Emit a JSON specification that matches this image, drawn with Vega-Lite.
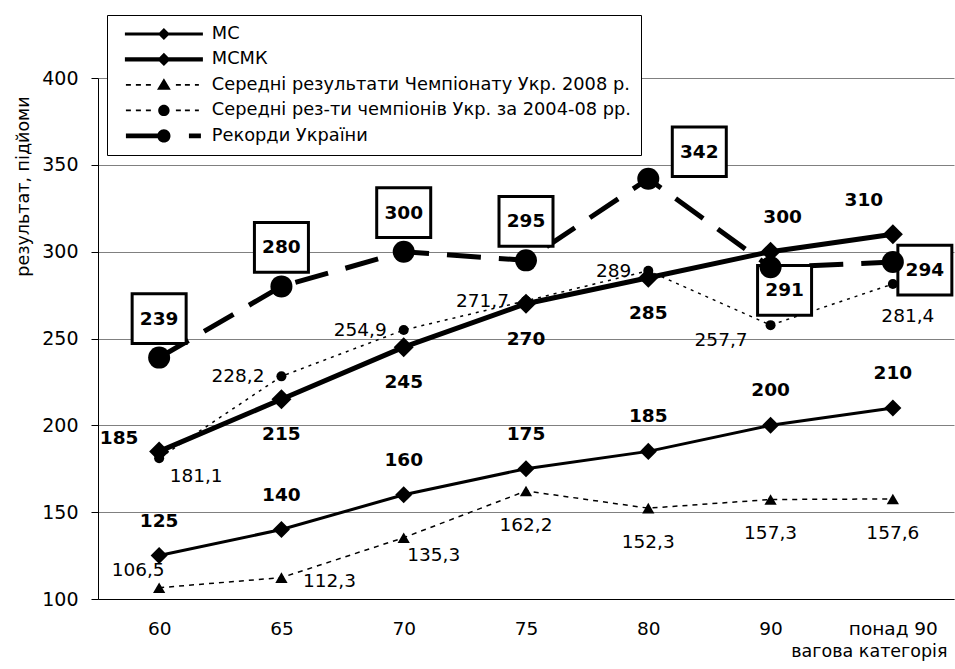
{
  "$schema": "https://vega.github.io/schema/vega-lite/v6.json",
  "width": 856,
  "height": 521,
  "autosize": {"type": "none"},
  "padding": {"left": 98, "top": 78, "right": 1, "bottom": 70},
  "background": "white",
  "config": {
    "font": "DejaVu Sans",
    "view": {"stroke": null},
    "locale": {"number": {"decimal": ",", "thousands": " ", "grouping": [3], "currency": ["", ""]}}
  },
  "data": {
    "values": [
      {"cat": "60", "series": "МС", "value": 125},
      {"cat": "65", "series": "МС", "value": 140},
      {"cat": "70", "series": "МС", "value": 160},
      {"cat": "75", "series": "МС", "value": 175},
      {"cat": "80", "series": "МС", "value": 185},
      {"cat": "90", "series": "МС", "value": 200},
      {"cat": "понад 90", "series": "МС", "value": 210},
      {"cat": "60", "series": "МСМК", "value": 185},
      {"cat": "65", "series": "МСМК", "value": 215},
      {"cat": "70", "series": "МСМК", "value": 245},
      {"cat": "75", "series": "МСМК", "value": 270},
      {"cat": "80", "series": "МСМК", "value": 285},
      {"cat": "90", "series": "МСМК", "value": 300},
      {"cat": "понад 90", "series": "МСМК", "value": 310},
      {"cat": "60", "series": "Середні результати Чемпіонату Укр. 2008 р.", "value": 106.5},
      {"cat": "65", "series": "Середні результати Чемпіонату Укр. 2008 р.", "value": 112.3},
      {"cat": "70", "series": "Середні результати Чемпіонату Укр. 2008 р.", "value": 135.3},
      {"cat": "75", "series": "Середні результати Чемпіонату Укр. 2008 р.", "value": 162.2},
      {"cat": "80", "series": "Середні результати Чемпіонату Укр. 2008 р.", "value": 152.3},
      {"cat": "90", "series": "Середні результати Чемпіонату Укр. 2008 р.", "value": 157.3},
      {"cat": "понад 90", "series": "Середні результати Чемпіонату Укр. 2008 р.", "value": 157.6},
      {"cat": "60", "series": "Середні рез-ти чемпіонів Укр. за 2004-08 рр.", "value": 181.1},
      {"cat": "65", "series": "Середні рез-ти чемпіонів Укр. за 2004-08 рр.", "value": 228.2},
      {"cat": "70", "series": "Середні рез-ти чемпіонів Укр. за 2004-08 рр.", "value": 254.9},
      {"cat": "75", "series": "Середні рез-ти чемпіонів Укр. за 2004-08 рр.", "value": 271.7},
      {"cat": "80", "series": "Середні рез-ти чемпіонів Укр. за 2004-08 рр.", "value": 289},
      {"cat": "90", "series": "Середні рез-ти чемпіонів Укр. за 2004-08 рр.", "value": 257.7},
      {"cat": "понад 90", "series": "Середні рез-ти чемпіонів Укр. за 2004-08 рр.", "value": 281.4},
      {"cat": "60", "series": "Рекорди України", "value": 239},
      {"cat": "65", "series": "Рекорди України", "value": 280},
      {"cat": "70", "series": "Рекорди України", "value": 300},
      {"cat": "75", "series": "Рекорди України", "value": 295},
      {"cat": "80", "series": "Рекорди України", "value": 342},
      {"cat": "90", "series": "Рекорди України", "value": 291},
      {"cat": "понад 90", "series": "Рекорди України", "value": 294}
    ]
  },
  "encoding": {
    "x": {
      "field": "cat", "type": "nominal",
      "scale": {"type": "point", "padding": 0.5, "domain": ["60", "65", "70", "75", "80", "90", "понад 90"]},
      "axis": {
        "title": "вагова категорія", "labelAngle": 0, "ticks": false, "grid": false,
        "domainColor": "black", "domainWidth": 1, "labelPadding": 20, "labelFontSize": 18.5, "labelColor": "black",
        "titleFontSize": 17.5, "titleFontWeight": "normal", "titleColor": "black",
        "titleAlign": "right", "titleAnchor": "end", "titleX": 849, "titleY": 57, "titleBaseline": "alphabetic"
      }
    },
    "y": {
      "field": "value", "type": "quantitative",
      "scale": {"domain": [100, 400], "nice": false, "zero": false},
      "axis": {
        "title": "результат, підйоми", "values": [100, 150, 200, 250, 300, 350, 400],
        "grid": true, "gridColor": "#808080", "gridWidth": 1,
        "domainColor": "black", "tickColor": "black", "tickSize": 7, "labelPadding": 13,
        "labelFontSize": 19, "labelColor": "black",
        "titleFontSize": 17.5, "titleFontWeight": "normal", "titleColor": "black",
        "titleAngle": -90, "titleAlign": "center", "titleBaseline": "alphabetic", "titleX": -70, "titleY": 108
      }
    }
  },
  "layer": [
    {"transform": [{"filter": "datum.series === 'МС'"}], "mark": {"type": "line", "color": "black", "strokeWidth": 3}},
    {"transform": [{"filter": "datum.series === 'МСМК'"}], "mark": {"type": "line", "color": "black", "strokeWidth": 5}},
    {"transform": [{"filter": "datum.series === 'Середні результати Чемпіонату Укр. 2008 р.'"}], "mark": {"type": "line", "color": "black", "strokeWidth": 1.5, "strokeDash": [5, 5]}},
    {"transform": [{"filter": "datum.series === 'Середні рез-ти чемпіонів Укр. за 2004-08 рр.'"}], "mark": {"type": "line", "color": "black", "strokeWidth": 1.5, "strokeDash": [3, 5]}},
    {"transform": [{"filter": "datum.series === 'Рекорди України'"}], "mark": {"type": "line", "color": "black", "strokeWidth": 5, "strokeDash": [34, 18]}},

    {"transform": [{"filter": "datum.series === 'Рекорди України' && indexof(['60','65','70','75'], datum.cat) >= 0"}],
     "mark": {"type": "point", "shape": "M-1,-0.92L1,-0.92L1,0.92L-1,0.92Z", "size": 2916, "filled": true, "fill": "white", "stroke": "black", "strokeWidth": 3, "opacity": 1, "yOffset": -39}},
    {"transform": [{"filter": "datum.series === 'Рекорди України' && datum.cat === '80'"}],
     "mark": {"type": "point", "shape": "M-1,-0.92L1,-0.92L1,0.92L-1,0.92Z", "size": 2916, "filled": true, "fill": "white", "stroke": "black", "strokeWidth": 3, "opacity": 1, "xOffset": 51, "yOffset": -27}},
    {"transform": [{"filter": "datum.series === 'Рекорди України' && datum.cat === '90'"}],
     "mark": {"type": "point", "shape": "M-1,-0.92L1,-0.92L1,0.92L-1,0.92Z", "size": 2916, "filled": true, "fill": "white", "stroke": "black", "strokeWidth": 3, "opacity": 1, "xOffset": 14, "yOffset": 23}},
    {"transform": [{"filter": "datum.series === 'Рекорди України' && datum.cat === 'понад 90'"}],
     "mark": {"type": "point", "shape": "M-1,-0.92L1,-0.92L1,0.92L-1,0.92Z", "size": 2916, "filled": true, "fill": "white", "stroke": "black", "strokeWidth": 3, "opacity": 1, "xOffset": 32, "yOffset": 8}},

    {"transform": [{"filter": "datum.series === 'МС'"}], "mark": {"type": "point", "shape": "diamond", "size": 290, "filled": true, "color": "black", "opacity": 1, "strokeWidth": 0}},
    {"transform": [{"filter": "datum.series === 'МСМК'"}], "mark": {"type": "point", "shape": "diamond", "size": 400, "filled": true, "color": "black", "opacity": 1, "strokeWidth": 0}},
    {"transform": [{"filter": "datum.series === 'Середні результати Чемпіонату Укр. 2008 р.'"}], "mark": {"type": "point", "shape": "triangle-up", "size": 150, "filled": true, "color": "black", "opacity": 1, "strokeWidth": 0}},
    {"transform": [{"filter": "datum.series === 'Середні рез-ти чемпіонів Укр. за 2004-08 рр.'"}], "mark": {"type": "point", "shape": "circle", "size": 100, "filled": true, "color": "black", "opacity": 1, "strokeWidth": 0}},
    {"transform": [{"filter": "datum.series === 'Рекорди України'"}], "mark": {"type": "point", "shape": "circle", "size": 484, "filled": true, "color": "black", "opacity": 1, "strokeWidth": 0}},

    {"transform": [{"filter": "datum.series === 'МС'"}],
     "mark": {"type": "text", "fontWeight": "bold", "fontSize": 18.5, "color": "black", "dy": -35},
     "encoding": {"text": {"field": "value", "type": "quantitative", "format": ".1~f"}}},

    {"transform": [{"filter": "datum.series === 'МСМК' && datum.cat === '60'"}],
     "mark": {"type": "text", "fontWeight": "bold", "fontSize": 18.5, "color": "black", "dx": -40, "dy": -13},
     "encoding": {"text": {"field": "value", "type": "quantitative", "format": ".1~f"}}},
    {"transform": [{"filter": "datum.series === 'МСМК' && indexof(['65','70','75','80'], datum.cat) >= 0"}],
     "mark": {"type": "text", "fontWeight": "bold", "fontSize": 18.5, "color": "black", "dy": 35},
     "encoding": {"text": {"field": "value", "type": "quantitative", "format": ".1~f"}}},
    {"transform": [{"filter": "datum.series === 'МСМК' && datum.cat === '90'"}],
     "mark": {"type": "text", "fontWeight": "bold", "fontSize": 18.5, "color": "black", "dx": 12, "dy": -35},
     "encoding": {"text": {"field": "value", "type": "quantitative", "format": ".1~f"}}},
    {"transform": [{"filter": "datum.series === 'МСМК' && datum.cat === 'понад 90'"}],
     "mark": {"type": "text", "fontWeight": "bold", "fontSize": 18.5, "color": "black", "dx": -29, "dy": -34},
     "encoding": {"text": {"field": "value", "type": "quantitative", "format": ".1~f"}}},

    {"transform": [{"filter": "datum.series === 'Середні результати Чемпіонату Укр. 2008 р.' && datum.cat === '60'"}],
     "mark": {"type": "text", "fontSize": 18.5, "color": "black", "dx": -21, "dy": -18},
     "encoding": {"text": {"field": "value", "type": "quantitative", "format": ".1~f"}}},
    {"transform": [{"filter": "datum.series === 'Середні результати Чемпіонату Укр. 2008 р.' && datum.cat === '65'"}],
     "mark": {"type": "text", "fontSize": 18.5, "color": "black", "dx": 48, "dy": 3},
     "encoding": {"text": {"field": "value", "type": "quantitative", "format": ".1~f"}}},
    {"transform": [{"filter": "datum.series === 'Середні результати Чемпіонату Укр. 2008 р.' && datum.cat === '70'"}],
     "mark": {"type": "text", "fontSize": 18.5, "color": "black", "dx": 30, "dy": 17},
     "encoding": {"text": {"field": "value", "type": "quantitative", "format": ".1~f"}}},
    {"transform": [{"filter": "datum.series === 'Середні результати Чемпіонату Укр. 2008 р.' && indexof(['75','80','90','понад 90'], datum.cat) >= 0"}],
     "mark": {"type": "text", "fontSize": 18.5, "color": "black", "dy": 34},
     "encoding": {"text": {"field": "value", "type": "quantitative", "format": ".1~f"}}},

    {"transform": [{"filter": "datum.series === 'Середні рез-ти чемпіонів Укр. за 2004-08 рр.' && datum.cat === '60'"}],
     "mark": {"type": "text", "fontSize": 18.5, "color": "black", "dx": 37, "dy": 18},
     "encoding": {"text": {"field": "value", "type": "quantitative", "format": ".1~f"}}},
    {"transform": [{"filter": "datum.series === 'Середні рез-ти чемпіонів Укр. за 2004-08 рр.' && indexof(['65','70','75','80'], datum.cat) >= 0"}],
     "mark": {"type": "text", "fontSize": 18.5, "color": "black", "align": "right", "dx": -17, "dy": 0},
     "encoding": {"text": {"field": "value", "type": "quantitative", "format": ".1~f"}}},
    {"transform": [{"filter": "datum.series === 'Середні рез-ти чемпіонів Укр. за 2004-08 рр.' && datum.cat === '90'"}],
     "mark": {"type": "text", "fontSize": 18.5, "color": "black", "align": "right", "dx": -23, "dy": 15},
     "encoding": {"text": {"field": "value", "type": "quantitative", "format": ".1~f"}}},
    {"transform": [{"filter": "datum.series === 'Середні рез-ти чемпіонів Укр. за 2004-08 рр.' && datum.cat === 'понад 90'"}],
     "mark": {"type": "text", "fontSize": 18.5, "color": "black", "dx": 15, "dy": 32},
     "encoding": {"text": {"field": "value", "type": "quantitative", "format": ".1~f"}}},

    {"transform": [{"filter": "datum.series === 'Рекорди України' && indexof(['60','65','70','75'], datum.cat) >= 0"}],
     "mark": {"type": "text", "fontWeight": "bold", "fontSize": 18.5, "color": "black", "dy": -39},
     "encoding": {"text": {"field": "value", "type": "quantitative", "format": ".1~f"}}},
    {"transform": [{"filter": "datum.series === 'Рекорди України' && datum.cat === '80'"}],
     "mark": {"type": "text", "fontWeight": "bold", "fontSize": 18.5, "color": "black", "dx": 51, "dy": -27},
     "encoding": {"text": {"field": "value", "type": "quantitative", "format": ".1~f"}}},
    {"transform": [{"filter": "datum.series === 'Рекорди України' && datum.cat === '90'"}],
     "mark": {"type": "text", "fontWeight": "bold", "fontSize": 18.5, "color": "black", "dx": 14, "dy": 23},
     "encoding": {"text": {"field": "value", "type": "quantitative", "format": ".1~f"}}},
    {"transform": [{"filter": "datum.series === 'Рекорди України' && datum.cat === 'понад 90'"}],
     "mark": {"type": "text", "fontWeight": "bold", "fontSize": 18.5, "color": "black", "dx": 32, "dy": 8},
     "encoding": {"text": {"field": "value", "type": "quantitative", "format": ".1~f"}}},

    {"mark": {"type": "point", "filled": true, "color": "black", "size": 0, "strokeWidth": 0, "opacity": 1},
     "encoding": {
       "shape": {
         "field": "series", "type": "nominal",
         "scale": {
           "domain": ["МС", "МСМК", "Середні результати Чемпіонату Укр. 2008 р.", "Середні рез-ти чемпіонів Укр. за 2004-08 рр.", "Рекорди України"],
           "range": [
             "M-6.5,-0.25L6.5,-0.25L6.5,0.25L-6.5,0.25ZM0,-1L1,0L0,1L-1,0Z",
             "M-6.5,-0.35L6.5,-0.35L6.5,0.35L-6.5,0.35ZM0,-1.1L1.1,0L0,1.1L-1.1,0Z",
             "M-6.33,-0.14L-5.5,-0.14L-5.5,0.14L-6.33,0.14ZM-4.67,-0.14L-3.83,-0.14L-3.83,0.14L-4.67,0.14ZM-3,-0.14L-2.17,-0.14L-2.17,0.14L-3,0.14ZM2,-0.14L2.83,-0.14L2.83,0.14L2,0.14ZM3.5,-0.14L4.33,-0.14L4.33,0.14L3.5,0.14ZM5.17,-0.14L5.83,-0.14L5.83,0.14L5.17,0.14ZM0,-1.1L1.15,0.8L-1.15,0.8Z",
             "M-6.33,-0.14L-5.5,-0.14L-5.5,0.14L-6.33,0.14ZM-4.67,-0.14L-3.83,-0.14L-3.83,0.14L-4.67,0.14ZM-3,-0.14L-2.17,-0.14L-2.17,0.14L-3,0.14ZM2,-0.14L2.83,-0.14L2.83,0.14L2,0.14ZM3.5,-0.14L4.33,-0.14L4.33,0.14L3.5,0.14ZM5.17,-0.14L5.83,-0.14L5.83,0.14L5.17,0.14ZM-0.95,0A0.95,0.95 0 1,1 0.95,0A0.95,0.95 0 1,1 -0.95,0Z",
             "M-6.33,-0.4L0,-0.4L0,0.4L-6.33,0.4ZM4.17,-0.4L6.17,-0.4L6.17,0.4L4.17,0.4ZM-1.1,0A1.1,1.1 0 1,1 1.1,0A1.1,1.1 0 1,1 -1.1,0Z"
           ]
         },
         "legend": {
           "title": null, "orient": "none", "legendX": 9, "legendY": -63,
           "fillColor": "white", "strokeColor": "black", "padding": 10,
           "labelFont": "DejaVu Sans", "labelFontSize": 17.8, "labelColor": "black", "labelLimit": 0,
           "symbolSize": 144, "symbolOffset": 38, "labelOffset": 39, "rowPadding": 6.5,
           "symbolFillColor": "black", "symbolStrokeWidth": 0, "symbolOpacity": 1, "zindex": 1
         }
       }
     }}
  ]
}
